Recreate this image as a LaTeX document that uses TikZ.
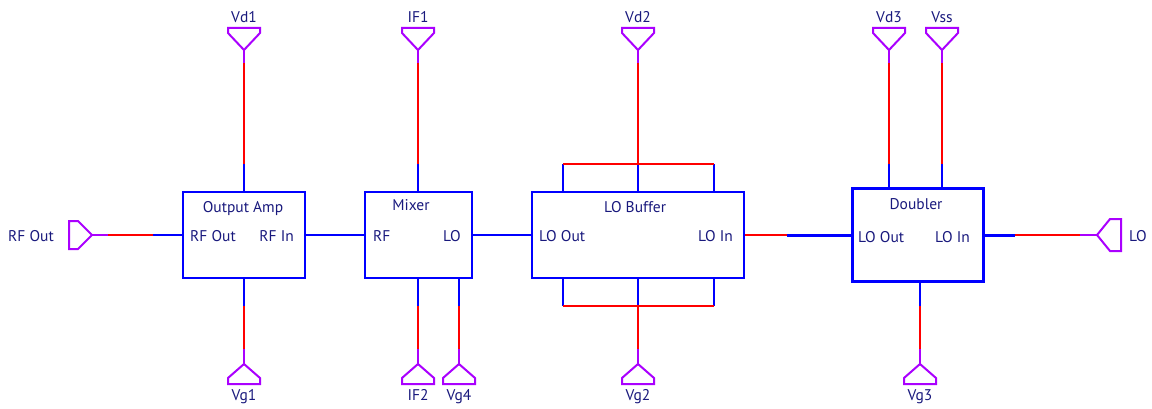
\documentclass[tikz,border=0pt]{standalone}
\usepackage{fontspec}
\setmainfont{PT Sans}
\definecolor{wblue}{RGB}{0,0,255}
\definecolor{wred}{RGB}{255,0,0}
\definecolor{wpin}{RGB}{170,0,255}
\definecolor{wtxt}{RGB}{25,25,125}
\tikzset{
  box/.style={draw=wblue, line width=2pt, rectangle, inner sep=0pt},
  dbox/.style={box, line width=3pt},
  bw/.style={draw=wblue, line width=2pt},
  bwt/.style={draw=wblue, line width=3pt},
  rw/.style={draw=wred, line width=2pt},
  pw/.style={draw=wpin, line width=2pt},
  pinshape/.style={draw=wpin, line width=2pt, line join=miter},
  txt/.style={text=wtxt, font=\fontsize{15.5}{18}\selectfont, inner sep=0pt, anchor=base},
  ltxt/.style={txt, anchor=base west},
  rtxt/.style={txt, anchor=base east},
}
\begin{document}
\begin{tikzpicture}[x=1pt,y=-1pt]
\useasboundingbox (0,0) rectangle (1152,409);

% ---------- boxes ----------
\node[box, minimum width=122pt, minimum height=86pt] (oa) at (244,235) {};
\node[box, minimum width=107pt, minimum height=86pt] (mx) at (418.5,235) {};
\node[box, minimum width=212pt, minimum height=86pt] (lob) at (638,235) {};
\node[dbox, minimum width=131pt, minimum height=92pt] (db) at (917.5,235) {};

% ---------- box texts ----------
\node[txt] (oa-t) at (243,212) {Output Amp};
\node[ltxt] (oa-rfo) at (190,241) {RF Out};
\node[rtxt] (oa-rfi) at (294,241) {RF In};
\node[txt] (mx-t) at (411,211) {Mixer};
\node[ltxt] (mx-rf) at (373,241) {RF};
\node[rtxt] (mx-lo) at (461,241) {LO};
\node[txt] (lob-t) at (635,212) {LO Buffer};
\node[ltxt] (lob-lo) at (539,241) {LO Out};
\node[rtxt] (lob-li) at (733,241) {LO In};
\node[txt] (db-t) at (916,209) {Doubler};
\node[ltxt] (db-lo) at (858,242) {LO Out};
\node[rtxt] (db-li) at (970,242) {LO In};

% ---------- top pins ----------
\foreach \n/\x/\lab in {vd1/244/Vd1, if1/418/IF1, vd2/638/Vd2, vd3/889/Vd3, vss/942/Vss}{
  \coordinate (\n) at (\x,50);
  \coordinate (\n-m) at (\x,63);
  \coordinate (\n-r) at (\x,164);
  \draw[pinshape] (\n) -- ++(-16,-17) -- ++(0,-5) -- ++(32,0) -- ++(0,5) -- cycle;
  \node[txt] (\n-l) at (\x,23) {\lab};
  \draw[pw] (\n) -- (\n-m);
  \draw[rw] (\n-m) -- (\n-r);
}
\draw[bw] (vd1-r) -- (vd1-r |- oa.north);
\draw[bw] (if1-r) -- (if1-r |- mx.north);
\draw[bw] (vd3-r) -- (vd3-r |- db.north);
\draw[bw] (vss-r) -- (vss-r |- db.north);

% ---------- bottom pins ----------
\foreach \n/\x/\lab in {vg1/244/Vg1, if2/418/IF2, vg4/459/Vg4, vg2/638/Vg2, vg3/920/Vg3}{
  \coordinate (\n) at (\x,364);
  \coordinate (\n-m) at (\x,349);
  \coordinate (\n-r) at (\x,306);
  \draw[pinshape] (\n) -- ++(-16,14) -- ++(0,6) -- ++(32,0) -- ++(0,-6) -- cycle;
  \node[txt] (\n-l) at (\x,400) {\lab};
  \draw[pw] (\n) -- (\n-m);
  \draw[rw] (\n-m) -- (\n-r);
}
\draw[bw] (vg1-r) -- (vg1-r |- oa.south);
\draw[bw] (if2-r) -- (if2-r |- mx.south);
\draw[bw] (vg4-r) -- (vg4-r |- mx.south);
\draw[bw] (vg3-r) -- (vg3-r |- db.south);

% ---------- LO buffer brackets ----------
\coordinate (bt1) at (563,164);
\coordinate (bt3) at (714,164);
\coordinate (bb1) at (563,306);
\coordinate (bb3) at (714,306);
\draw[bw] (bt1) -- (bt1 |- lob.north);
\draw[bw] (vd2-r) -- (vd2-r |- lob.north);
\draw[bw] (bt3) -- (bt3 |- lob.north);
\draw[bw] (bb1) -- (bb1 |- lob.south);
\draw[bw] (vg2-r) -- (vg2-r |- lob.south);
\draw[bw] (bb3) -- (bb3 |- lob.south);
\draw[rw] (bt1) -- (bt3);
\draw[rw] (bb1) -- (bb3);

% ---------- RF Out pin ----------
\coordinate (rfo) at (92,235);
\coordinate (rfo-m) at (108,235);
\coordinate (rfo-r) at (153,235);
\draw[pinshape] (rfo) -- ++(-14,-14) -- ++(-9,0) -- ++(0,28) -- ++(9,0) -- cycle;
\node[txt] (rfo-l) at (31,241) {RF Out};
\draw[pw] (rfo) -- (rfo-m);
\draw[rw] (rfo-m) -- (rfo-r);
\draw[bw] (rfo-r) -- (oa.west);

% ---------- chain ----------
\draw[bw] (oa.east) -- (mx.west);
\draw[bw] (mx.east) -- (lob.west);
\coordinate (ld) at (787,235);
\draw[rw] (lob.east) -- (ld);
\draw[bwt] (ld) -- (db.west);

% ---------- LO pin ----------
\coordinate (lo) at (1097,235);
\coordinate (lo-m) at (1080,235);
\coordinate (lo-r) at (1015,235);
\draw[pinshape] (lo) -- ++(13,-16) -- ++(11,0) -- ++(0,32) -- ++(-11,0) -- cycle;
\node[ltxt] (lo-l) at (1129,241) {LO};
\draw[bwt] (db.east) -- (lo-r);
\draw[rw] (lo-r) -- (lo-m);
\draw[pw] (lo-m) -- (lo);
\end{tikzpicture}
\end{document}
